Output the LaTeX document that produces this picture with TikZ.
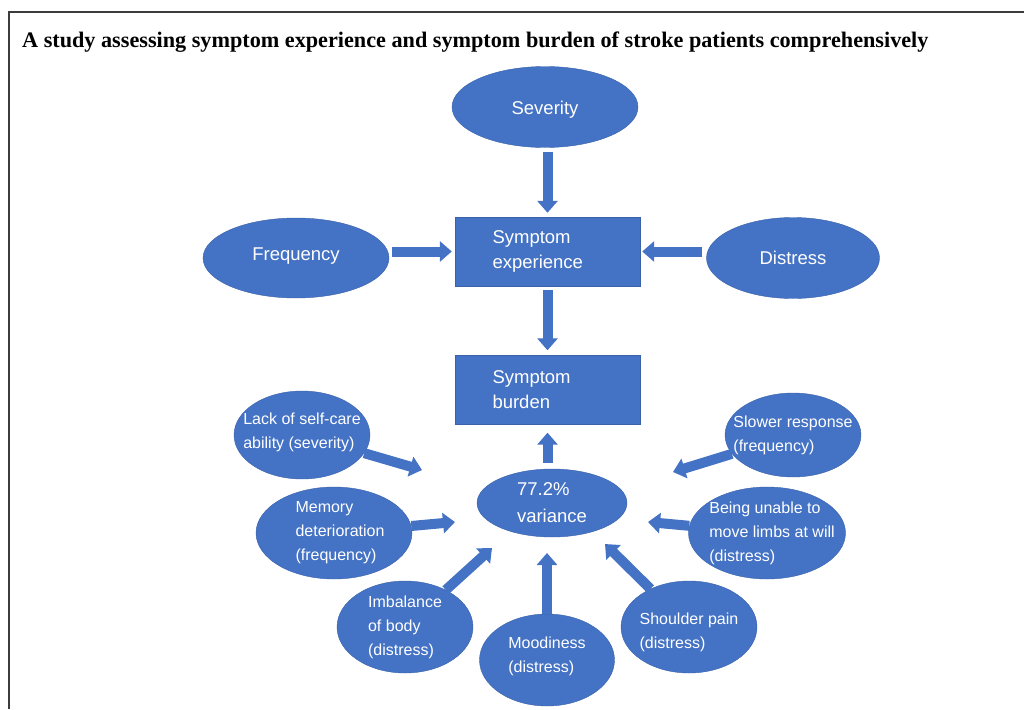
\documentclass[tikz,border=0pt]{standalone}
\usepackage{fontspec}
\setmainfont{Liberation Serif}
\setsansfont{Liberation Sans}
\usepackage{xcolor}
\usepackage{tikz}
\usetikzlibrary{arrows.meta}
\usetikzlibrary{shapes.geometric}
\definecolor{nodeblue}{HTML}{4472C4}
\definecolor{edgeblue}{HTML}{3A62AA}
\definecolor{framegray}{HTML}{3C3C3C}
\tikzset{
    txtnode/.style = {align=left, inner sep=0pt, text=white, font=\sffamily\fontsize{16}{24}\selectfont},
    big_txt/.style = {txtnode, font=\sffamily\fontsize{18.5}{25}\selectfont},
    blue_ell/.style = {ellipse, fill=nodeblue, draw=edgeblue, thin, inner sep=0pt},
    blue_box/.style = {rectangle, fill=nodeblue, draw=edgeblue, thin, inner sep=0pt, minimum width=185pt, minimum height=69pt, big_txt, text width=110pt},
    blk_arrow/.style = {draw=nodeblue, line width=10pt, -{Triangle[length=12pt, width=20pt]}}
}

\begin{document}
\begin{tikzpicture}[x=1pt, y=-1pt]
            \useasboundingbox (0,0) rectangle (1024,709);
            \draw [framegray, line width=1.2pt] (9,709) -- (9,12) -- (1024,12);
            \node [anchor=base west, inner sep=0pt, font=\rmfamily\bfseries\fontsize{22.2}{26}\selectfont] (title) at (22,48)
                {A study assessing symptom experience and symptom burden of stroke patients comprehensively};

            % upper part
            \node [blue_ell, minimum width=186pt, minimum height=81pt,
                label={[big_txt, yshift=-3pt]center:Severity}] (sev) at (545,107) {};
            \node [blue_ell, minimum width=186pt, minimum height=80pt,
                label={[big_txt, yshift=2pt]center:Frequency}] (freq) at (296,258) {};
            \node [blue_ell, minimum width=173pt, minimum height=81pt,
                label={[big_txt]center:Distress}] (dis) at (793,258) {};
            \node [blue_box] (exp) at (547.5,251.5) {Symptom\\experience};
            \node [blue_box] (bur) at (547.5,390) {Symptom\\burden};

            \draw [blk_arrow, shorten <=4pt, shorten >=4pt] (sev.south -| exp.north) -- (exp.north);
            \draw [blk_arrow, shorten <=3pt, shorten >=3pt] (freq.east |- exp.west) -- (exp.west);
            \draw [blk_arrow, shorten <=4pt, shorten >=2pt] (dis.west |- exp.east) -- (exp.east);
            \draw [blk_arrow, shorten <=4pt, shorten >=5pt] (exp.south) -- (bur.north);

            % lower part
            \node [blue_ell, minimum width=150pt, minimum height=68pt,
                label={[big_txt, font=\sffamily\fontsize{18.5}{27}\selectfont]center:{77.2\%\\variance}}] (var) at (552,503) {};
            \node [blue_ell, minimum width=136pt, minimum height=88pt,
                label={[txtnode, yshift=3pt]center:{Lack of self-care\\ability (severity)}}] (lack) at (302,435) {};
            \node [blue_ell, minimum width=156pt, minimum height=92pt,
                label={[txtnode, xshift=6pt]center:{Memory\\deterioration\\(frequency)}}] (mem) at (334,533) {};
            \node [blue_ell, minimum width=136pt, minimum height=92pt,
                label={[txtnode]center:{Imbalance\\of body\\(distress)}}] (imb) at (405,627) {};
            \node [blue_ell, minimum width=135pt, minimum height=92pt,
                label={[txtnode, yshift=4pt]center:{Moodiness\\(distress)}}] (mood) at (547,660) {};
            \node [blue_ell, minimum width=136pt, minimum height=92pt,
                label={[txtnode, yshift=-5pt]center:{Shoulder pain\\(distress)}}] (shd) at (689,627) {};
            \node [blue_ell, minimum width=157pt, minimum height=92pt,
                label={[txtnode, xshift=5pt]center:{Being unable to\\move limbs at will\\(distress)}}] (being) at (767,533) {};
            \node [blue_ell, minimum width=136pt, minimum height=84pt,
                label={[txtnode]center:{Slower response\\(frequency)}}] (slow) at (793,435) {};

            \coordinate (tip_lack) at (422,470);
            \coordinate (tip_mem) at (455,522);
            \coordinate (tip_imb) at (492,548);
            \coordinate (tip_mood) at (547,553);
            \coordinate (tip_shd) at (605,544);
            \coordinate (tip_being) at (648,522);
            \coordinate (tip_slow) at (673,472);

            \draw [blk_arrow, shorten <=6pt, shorten >=8pt] (var.north -| bur.south) -- (bur.south);
            \foreach \src in {lack, mem, imb, mood, shd, being, slow}
                \draw [blk_arrow] (\src) -- (tip_\src);
\end{tikzpicture}
\end{document}
